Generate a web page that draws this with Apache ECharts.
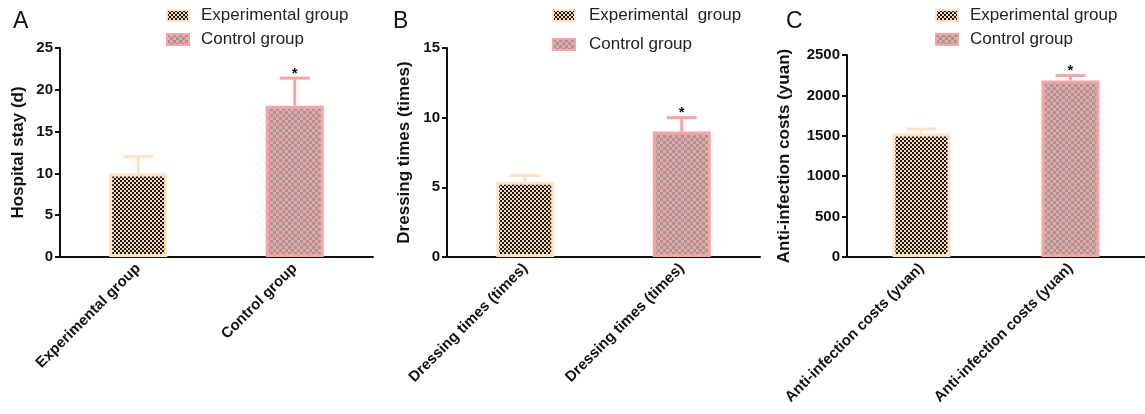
<!DOCTYPE html>
<html><head><meta charset="utf-8">
<script src="https://cdn.jsdelivr.net/npm/echarts@6/dist/echarts.min.js"></script>
<style>html,body{margin:0;padding:0;background:#fff}#c{width:1145px;height:414px}</style>
</head><body><div id="c"></div>
<script>
// ---- data ----
const groupNames = ['Experimental group', 'Control group'];
const groupNamesB = ['Experimental  group', 'Control group'];
const categoriesA = ['Experimental group', 'Control group'];
const categoriesB = ['Dressing times (times)', 'Dressing times (times)'];
const categoriesC = ['Anti-infection costs (yuan)', 'Anti-infection costs (yuan)'];
const meansA = [10.0, 18.1];
const errA = [2.0, 3.3];
const meansB = [5.4, 9.0];
const errB = [0.45, 1.0];
const meansC = [1530, 2185];
const errC = [55, 60];
const sigA = ['', '*'];
const sigB = ['', '*'];
const sigC = ['', '*'];
const yTitles = ['Hospital stay (d)', 'Dressing times (times)', 'Anti-infection costs (yuan)'];
const panelLetters = ['A', 'B', 'C'];
const yMax = [25, 15, 2500];
const yInterval = [5, 5, 500];

// ---- styles ----
const FONT = '"Liberation Sans", Arial, sans-serif';
function makePattern(c1, c2, size) {
  const cv = document.createElement('canvas');
  cv.width = cv.height = size * 2;
  const ctx = cv.getContext('2d');
  ctx.fillStyle = c1; ctx.fillRect(0, 0, size * 2, size * 2);
  ctx.fillStyle = c2; ctx.fillRect(0, 0, size, size); ctx.fillRect(size, size, size, size);
  return { image: cv, repeat: 'repeat' };
}
const expFill = makePattern('#f0d6b4', '#1e1a16', 2);
const ctlFill = makePattern('#f4a3a3', '#9a9a9a', 3);
const expBorder = '#fde2c4';
const ctlBorder = '#f9a4a4';
const errColors = [expBorder, ctlBorder];

const grids = [
  { left: 60, right: 772, top: 48, bottom: 157 },
  { left: 447, right: 385, top: 48, bottom: 157 },
  { left: 847, right: -5, top: 55, bottom: 157 }
];
const legendPos = [
  { left: 166, top: 7, itemGap: 7 },
  { left: 552, top: 7, itemGap: 12 },
  { left: 935, top: 7, itemGap: 7 }
];
const legendTextPad = [7, 9, 7];
const nameGaps = [33, 34, 54];

const cats = [categoriesA, categoriesB, categoriesC];
const means = [meansA, meansB, meansC];
const errs = [errA, errB, errC];
const sigs = [sigA, sigB, sigC];
const names = [groupNames, groupNamesB, groupNames];

const option = {
  animation: false,
  textStyle: { fontFamily: FONT },
  title: panelLetters.map((t, i) => ({
    text: t, left: [8, 388, 781][i], top: 5,
    textStyle: { fontFamily: FONT, fontSize: 23, fontWeight: 'normal', color: '#111' }
  })),
  grid: grids,
  legend: names.map((n, i) => ({
    orient: 'vertical', left: legendPos[i].left, top: legendPos[i].top, itemGap: legendPos[i].itemGap,
    padding: 0, itemWidth: 22, itemHeight: 11, icon: 'rect',
    data: n, selectedMode: false,
    textStyle: { fontFamily: FONT, fontSize: 17, color: '#222', padding: [0, 0, 0, legendTextPad[i]] }
  })),
  xAxis: cats.map((c, i) => ({
    gridIndex: i, type: 'category', data: c,
    axisLine: { lineStyle: { color: '#111', width: 2 } },
    axisTick: { alignWithLabel: true, length: 6, lineStyle: { color: '#111', width: 2 } },
    axisLabel: { rotate: 45, interval: 0, fontFamily: FONT, fontWeight: 'bold', fontSize: 15, color: '#111', margin: 9 }
  })),
  yAxis: yMax.map((m, i) => ({
    gridIndex: i, type: 'value', min: 0, max: m, interval: yInterval[i],
    splitLine: { show: false },
    axisLine: { show: true, lineStyle: { color: '#111', width: 2 } },
    axisTick: { show: true, length: 5, lineStyle: { color: '#111', width: 2 } },
    axisLabel: { fontFamily: FONT, fontWeight: 'bold', fontSize: 15, color: '#111', margin: 7, formatter: v => String(v) },
    name: yTitles[i], nameLocation: 'middle', nameGap: nameGaps[i],
    nameTextStyle: { fontFamily: FONT, fontWeight: 'bold', fontSize: 17, color: '#111' }
  })),
  series: []
};

for (let i = 0; i < 3; i++) {
  const fills = [expFill, ctlFill];
  const borders = [expBorder, ctlBorder];
  for (let g = 0; g < 2; g++) {
    option.series.push({
      type: 'bar', name: names[i][g], xAxisIndex: i, yAxisIndex: i,
      data: means[i].map((v, k) => (k === g ? v : '-')),
      barWidth: 58, barGap: '-100%',
      itemStyle: { color: fills[g], borderColor: borders[g], borderWidth: 3 },
      z: 3
    });
  }
  const panel = i;
  option.series.push({
    type: 'custom', xAxisIndex: i, yAxisIndex: i, z: 2,
    data: means[i].map((v, k) => [k, v, errs[i][k]]),
    renderItem: function (params, api) {
      const x = api.value(0), m = api.value(1), e = api.value(2);
      const p0 = api.coord([x, m]);
      const p1 = api.coord([x, m + e]);
      const col = errColors[params.dataIndex];
      const children = [
        { type: 'line', shape: { x1: p0[0], y1: p0[1], x2: p1[0], y2: p1[1] }, style: { stroke: col, lineWidth: 3 } },
        { type: 'line', shape: { x1: p1[0] - 15, y1: p1[1], x2: p1[0] + 15, y2: p1[1] }, style: { stroke: col, lineWidth: 3 } }
      ];
      const s = sigs[panel][params.dataIndex];
      if (s) {
        children.push({ type: 'text', style: { text: s, x: p1[0], y: p1[1] + 3, align: 'center', verticalAlign: 'bottom', fill: '#111', font: 'bold 15px ' + FONT } });
      }
      return { type: 'group', children: children };
    }
  });
}

const chart = echarts.init(document.getElementById('c'), null, { renderer: 'canvas' });
chart.setOption(option);
</script>
</body></html>
